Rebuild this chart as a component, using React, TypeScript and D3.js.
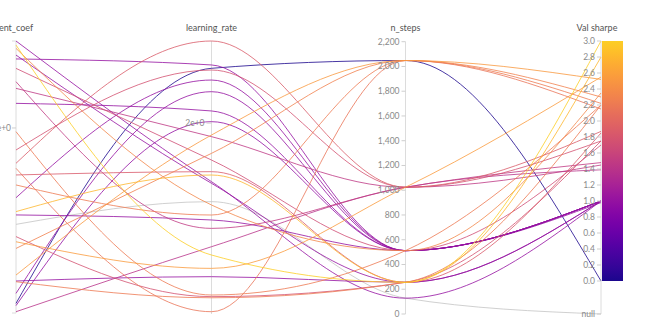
import React from "react";
import * as d3 from "d3";

const dimensions = ["ent_coef", "learning_rate", "n_steps", "Val sharpe"];

const entCoef = [1.47, 1.394, 1.448, 0.548, 1.373, 1.133, 0.623, 0.106, 0.04, 0.809, 0.881, 1.25, 0.98, 1.43, 0.53, 0.479, 0.413, 0.205, 0.173, 0.169, 0.052, 0.007, 0.782, 0.349, 1.214, 0.385, 0.692, 1.322, 0.746];
const learningRate = [1.386, 1.369, 0.618, 1.456, 2.609, 2.127, 2.451, 2.329, 2.015, 2.86, 2.556, 0.897, 0.199, 1.142, 0.985, 1.177, 0.182, 1.875, 0.391, 0.17, 2.574, 0.705, 0.024, 1.683, 1.858, 0.478, 1.037, 1.613, 1.491];
const nSteps = [128, 256, 256, 256, 512, 512, 512, 512, 512, 1024, 1024, 1024, 512, 512, 512, 128, 256, 2048, 256, 256, 2048, 1024, 2048, 2048, 1024, 1024, 2048, 512, 256];
const valSharpe: (number | null)[] = [1.0, 1.0, 3.0, 2.8, 1.0, 1.0, 1.0, 1.0, 0.98, 1.87, 1.75, 1.48, 2.2, 2.35, 1.0, null, 1.75, 2.52, 1.0, 2.2, 0.0, 1.39, 2.15, 2.3, 1.45, 2.55, 2.22, 1.7, 1.85];

const entTicks = [1];
const entTickLabels = ["1e+0"];
const lrTicks = [2];
const lrTickLabels = ["2e+0"];
const nStepsTicks = d3.range(0, 2201, 200);
const valTicks = d3.range(0, 3.0001, 0.2);

const W = 660;
const H = 330;
const axisX = [16, 211.5, 405.5, 601];

const yEnt = d3.scaleLinear().domain([0, 1.47]).range([313, 41]);
const yLr = d3.scaleLinear().domain([0, 2.86]).range([314, 41]);
const yN = d3.scaleLinear().domain([0, 2200]).range([314, 41.7]);
const yVal = d3.scaleLinear().domain([0, 3]).range([281, 41]);
const nullY = 314;

const color = (v: number) => d3.interpolatePlasma(0.02 + (v / 3) * 0.88);

export default function App() {
  const line = d3
    .line<[number, number]>()
    .x((d) => d[0])
    .y((d) => d[1])
    .curve(d3.curveMonotoneX);

  const records = entCoef.map((e, i) => ({
    e,
    lr: learningRate[i],
    n: nSteps[i],
    v: valSharpe[i],
  }));

  const order = records
    .map((r, i) => i)
    .sort((a, b) => (records[a].v ?? -1) - (records[b].v ?? -1));

  const gradStops = d3.range(0, 1.0001, 0.05);

  const fam = "Lato, 'Open Sans', 'Noto Sans', sans-serif";
  const tickFont = { fontFamily: fam, fontSize: 8.5, fill: "#8a8a8a" };
  const titleFont = { fontFamily: fam, fontSize: 9, fill: "#555" };

  return (
    <svg
      width={W}
      height={H}
      style={{ position: "absolute", left: 0, top: 0, background: "#fff" }}
    >
      <defs>
        <linearGradient id="cbar" x1="0" y1="1" x2="0" y2="0">
          {gradStops.map((t) => (
            <stop key={t} offset={t} stopColor={color(t * 3)} />
          ))}
        </linearGradient>
      </defs>

      <g stroke="#dcdcdc" strokeWidth={1}>
        <line x1={axisX[0]} x2={axisX[0]} y1={yEnt.range()[1]} y2={yEnt.range()[0]} />
        <line x1={axisX[1]} x2={axisX[1]} y1={yLr.range()[1]} y2={yLr.range()[0]} />
        <line x1={axisX[2]} x2={axisX[2]} y1={yN.range()[1]} y2={yN.range()[0]} />
        <line x1={axisX[3]} x2={axisX[3]} y1={yVal.range()[1]} y2={nullY} />
      </g>

      <g fill="none">
        {order.map((i) => {
          const r = records[i];
          const pts: [number, number][] = [
            [axisX[0], yEnt(r.e)],
            [axisX[1], yLr(r.lr)],
            [axisX[2], yN(r.n)],
            [axisX[3], r.v == null ? nullY : yVal(r.v)],
          ];
          return (
            <path
              key={i}
              d={line(pts) || ""}
              stroke={r.v == null ? "#c4c4c4" : color(r.v)}
              strokeWidth={1}
              strokeOpacity={0.8}
            />
          );
        })}
      </g>

      <rect
        x={axisX[3] + 1}
        y={yVal(3)}
        width={21}
        height={yVal(0) - yVal(3)}
        fill="url(#cbar)"
      />

      <g>
        {[yEnt.range()[1], yEnt.range()[0]].map((y, k) => (
          <line key={k} x1={axisX[0] - 4} x2={axisX[0]} y1={y} y2={y} stroke="#dcdcdc" />
        ))}
        {entTicks.map((t, k) => (
          <g key={t}>
            <line x1={axisX[0] - 4} x2={axisX[0]} y1={yEnt(t)} y2={yEnt(t)} stroke="#cfcfcf" />
            <text x={axisX[0] - 5} y={yEnt(t)} dy="0.33em" textAnchor="end" {...tickFont}>
              {entTickLabels[k]}
            </text>
          </g>
        ))}
      </g>

      <g>
        {lrTicks.map((t, k) => (
          <g key={t}>
            <line x1={axisX[1] - 5} x2={axisX[1]} y1={yLr(t)} y2={yLr(t)} stroke="#cfcfcf" />
            <text x={axisX[1] - 7} y={yLr(t)} dy="0.33em" textAnchor="end" {...tickFont}>
              {lrTickLabels[k]}
            </text>
          </g>
        ))}
      </g>

      <g>
        {nStepsTicks.map((t) => (
          <g key={t}>
            <line x1={axisX[2] - 4} x2={axisX[2]} y1={yN(t)} y2={yN(t)} stroke="#cfcfcf" />
            <text x={axisX[2] - 6} y={yN(t)} dy="0.33em" textAnchor="end" {...tickFont}>
              {d3.format(",")(t)}
            </text>
          </g>
        ))}
      </g>

      <g>
        {valTicks.map((t) => (
          <g key={t.toFixed(1)}>
            <line x1={axisX[3] - 4} x2={axisX[3]} y1={yVal(t)} y2={yVal(t)} stroke="#cfcfcf" />
            <text x={axisX[3] - 6} y={yVal(t)} dy="0.33em" textAnchor="end" {...tickFont}>
              {t.toFixed(1)}
            </text>
          </g>
        ))}
        <line x1={axisX[3] - 4} x2={axisX[3]} y1={nullY} y2={nullY} stroke="#cfcfcf" />
        <text x={axisX[3] - 6} y={nullY} dy="0.33em" textAnchor="end" {...tickFont}>
          null
        </text>
      </g>

      {dimensions.map((d, i) => (
        <text
          key={d}
          x={i === 3 ? axisX[i] - 4 : axisX[i]}
          y={31}
          textAnchor="middle"
          {...titleFont}
        >
          {d}
        </text>
      ))}
    </svg>
  );
}
